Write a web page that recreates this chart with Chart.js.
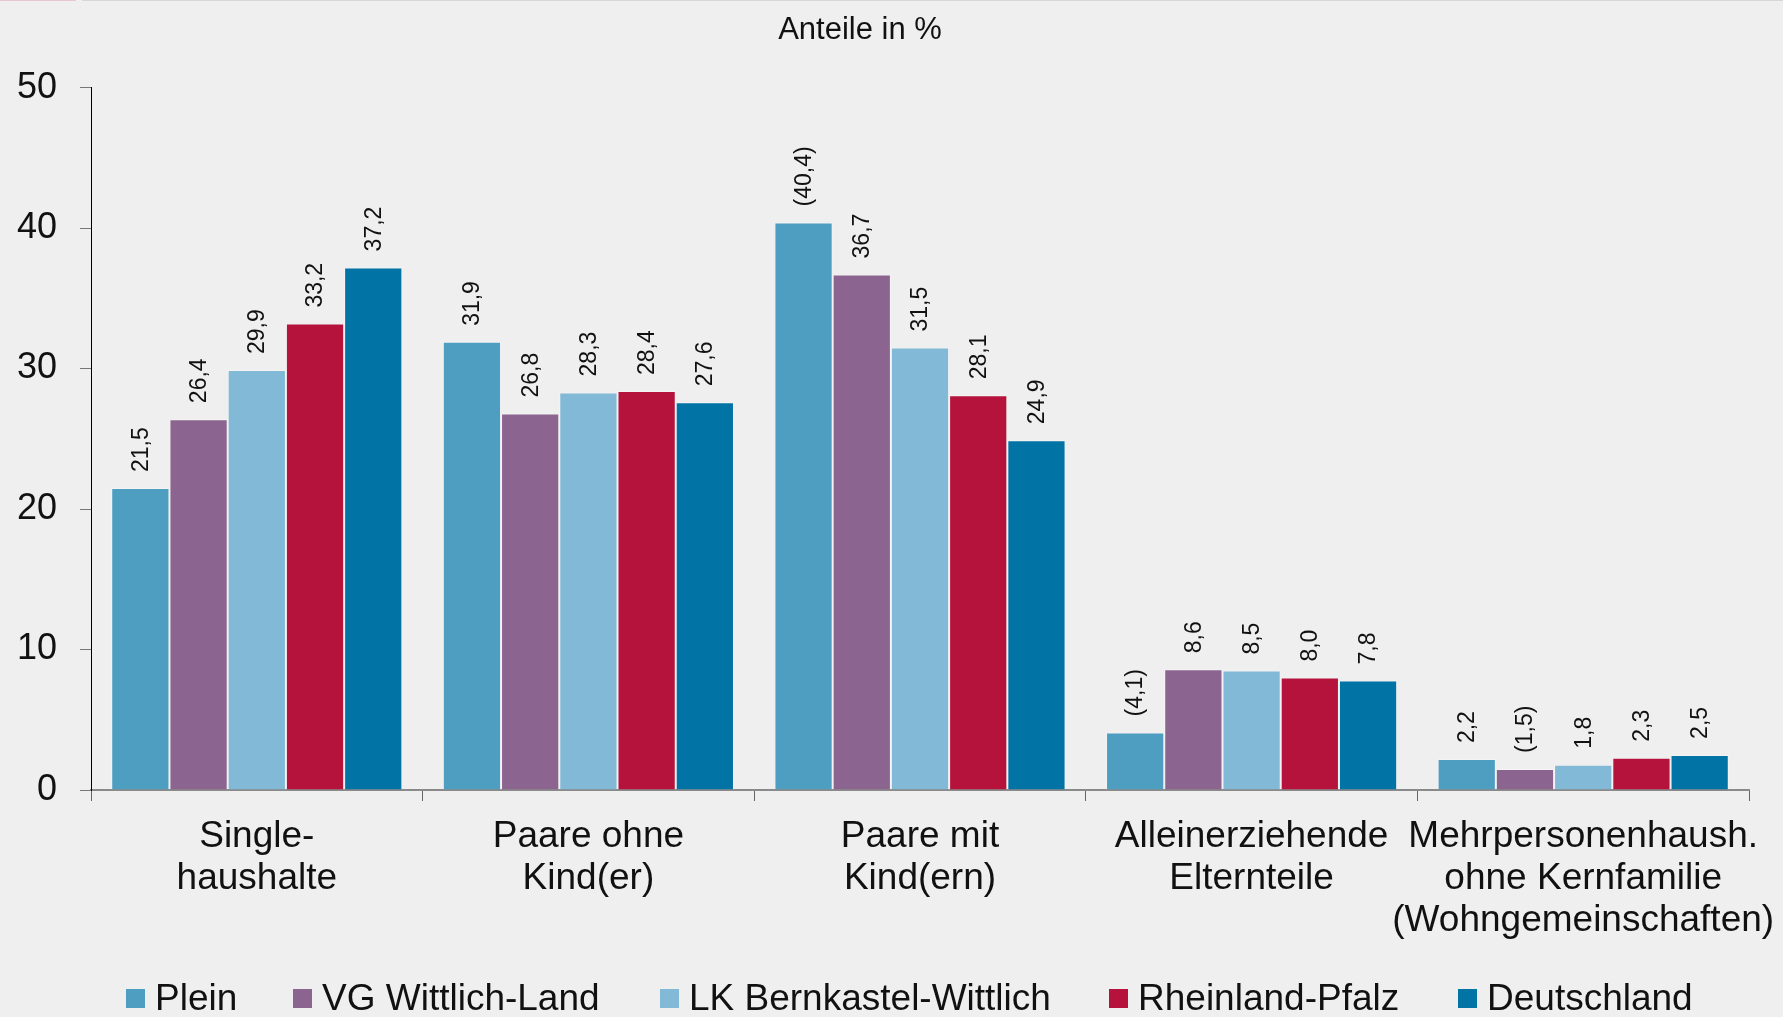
<!DOCTYPE html>
<html>
<head>
<meta charset="utf-8">
<script src="https://cdn.jsdelivr.net/npm/chart.js@4"></script>
<style>
  html, body { margin: 0; padding: 0; background: #eeefee; }
  #wrap { position: relative; width: 1783px; height: 1017px; }
  #pink { position: absolute; left: 0; top: 0; width: 76px; height: 1px; background: #e9c7d1; }
  #grayline { position: absolute; left: 82px; top: 0; width: 1701px; height: 1px; background: #d6d8d8; }
  canvas { display: block; }
</style>
</head>
<body>
<div id="wrap">
  <canvas id="c" width="1783" height="1017"></canvas>
  <div id="pink"></div><div id="grayline"></div>
</div>
<script>
const categories = [
  ['Single-', 'haushalte'],
  ['Paare ohne', 'Kind(er)'],
  ['Paare mit', 'Kind(ern)'],
  ['Alleinerziehende', 'Elternteile'],
  ['Mehrpersonenhaush.', 'ohne Kernfamilie', '(Wohngemeinschaften)']
];
const seriesNames = ['Plein', 'VG Wittlich-Land', 'LK Bernkastel-Wittlich', 'Rheinland-Pfalz', 'Deutschland'];
const plein        = [21.5, 31.9, 40.4, 4.1, 2.2];
const vgWittlich   = [26.4, 26.8, 36.7, 8.6, 1.5];
const lkBernkastel = [29.9, 28.3, 31.5, 8.5, 1.8];
const rlp          = [33.2, 28.4, 28.1, 8.0, 2.3];
const deutschland  = [37.2, 27.6, 24.9, 7.8, 2.5];
// values shown in brackets in the source (limited reliability)
const bracketed = [[0, 2], [0, 3], [1, 4]]; // [seriesIndex, categoryIndex]
const yTicks = [0, 10, 20, 30, 40, 50];
const colors = ['#4e9ec1', '#8b648f', '#82b9d6', '#b5133c', '#0173a5'];
const seriesValues = [plein, vgWittlich, lkBernkastel, rlp, deutschland];

// layout constants (not data)
const legendBoxX = [126, 293, 660, 1109, 1458];

const FONT = '"Liberation Sans", Arial, Helvetica, sans-serif';
const fmt = v => v.toFixed(1).replace('.', ',');

const labelPlugin = {
  id: 'barLabels',
  afterDatasetsDraw(chart) {
    const ctx = chart.ctx;
    ctx.save();
    ctx.font = '23px ' + FONT;
    ctx.fillStyle = '#111';
    ctx.textAlign = 'left';
    ctx.textBaseline = 'middle';
    chart.data.datasets.forEach((ds, si) => {
      const meta = chart.getDatasetMeta(si);
      meta.data.forEach((bar, ci) => {
        let t = fmt(ds.data[ci]);
        if (bracketed.some(b => b[0] === si && b[1] === ci)) t = '(' + t + ')';
        ctx.save();
        ctx.translate(bar.x + 1, bar.y - 16);
        ctx.rotate(-Math.PI / 2);
        ctx.fillText(t, 0, 0);
        ctx.restore();
      });
    });
    ctx.restore();
  }
};

const titleLegendPlugin = {
  id: 'titleLegend',
  afterDraw(chart) {
    const ctx = chart.ctx;
    ctx.save();
    ctx.fillStyle = '#111';
    ctx.font = '31px ' + FONT;
    ctx.textAlign = 'center';
    ctx.textBaseline = 'middle';
    ctx.fillText('Anteile in %', 860, 30);
    ctx.font = '37px ' + FONT;
    ctx.textAlign = 'left';
    const cy = 998.5;
    chart.data.datasets.forEach((ds, i) => {
      const x = legendBoxX[i];
      ctx.fillStyle = ds.backgroundColor;
      ctx.fillRect(x, cy - 9.5, 19, 19);
      ctx.fillStyle = '#111';
      ctx.fillText(ds.label, x + 29, cy + 1);
    });
    ctx.restore();
  }
};

new Chart(document.getElementById('c'), {
  type: 'bar',
  data: {
    labels: categories,
    datasets: seriesNames.map((n, i) => ({
      label: n,
      data: seriesValues[i],
      backgroundColor: colors[i],
      borderColor: 'rgba(255,255,255,0.35)',
      borderWidth: 1,
      categoryPercentage: 0.878,
      barPercentage: 1.0
    }))
  },
  options: {
    responsive: false,
    animation: false,
    devicePixelRatio: 1,
    layout: { padding: { top: 87.6, right: 34, bottom: 0, left: 0 } },
    plugins: { legend: { display: false }, title: { display: false }, tooltip: { enabled: false } },
    scales: {
      x: {
        grid: { offset: true, drawOnChartArea: false, drawTicks: true, tickLength: 11, color: '#666', lineWidth: 1 },
        border: { display: true, color: '#8a8a8a', width: 2 },
        ticks: { color: '#111', padding: 15, font: { family: FONT, size: 37, lineHeight: '42px' }, maxRotation: 0, autoSkip: false },
        afterFit(scale) { scale.height = 227; scale.paddingLeft = 0; scale.paddingRight = 0; }
      },
      y: {
        min: 0, max: 50,
        afterBuildTicks(scale) { scale.ticks = yTicks.map(v => ({ value: v })); },
        grid: { drawOnChartArea: false, drawTicks: true, tickLength: 11, color: '#777', lineWidth: 1 },
        border: { display: true, color: '#000', width: 1 },
        ticks: { color: '#111', padding: 23, font: { family: FONT, size: 36 } },
        afterFit(scale) { scale.width = 91; scale.paddingTop = 0; scale.paddingBottom = 0; }
      }
    }
  },
  plugins: [labelPlugin, titleLegendPlugin]
});
</script>
</body>
</html>
